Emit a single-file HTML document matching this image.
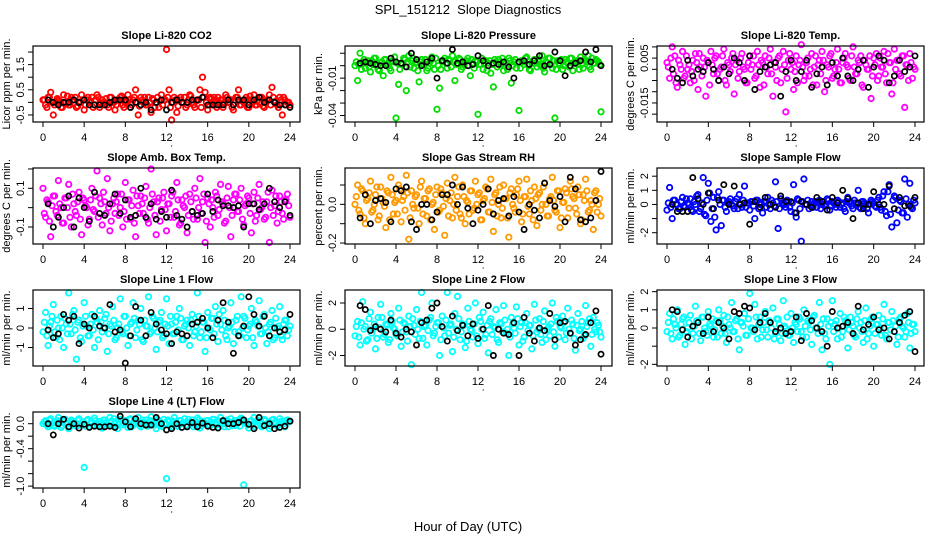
<!DOCTYPE html>
<html><head><meta charset="utf-8">
<style>
html,body{margin:0;padding:0;background:#fff;}
svg{display:block;font-family:"Liberation Sans",sans-serif;}
</style></head>
<body>
<svg id="chart" width="936" height="540" viewBox="0 0 936 540">
<text x="468" y="14" text-anchor="middle" font-size="13">SPL_151212&#160; Slope Diagnostics</text>
<text x="468" y="531" text-anchor="middle" font-size="13">Hour of Day (UTC)</text>
</svg>
<script>
const hoursC=[0,0.25,0.5,0.75,1,1.25,1.5,1.75,2,2.25,2.5,2.75,3,3.25,3.5,3.75,4,4.25,4.5,4.75,5,5.25,5.5,5.75,6,6.25,6.5,6.75,7,7.25,7.5,7.75,8,8.25,8.5,8.75,9,9.25,9.5,9.75,10,10.25,10.5,10.75,11,11.25,11.5,11.75,12,12.25,12.5,12.75,13,13.25,13.5,13.75,14,14.25,14.5,14.75,15,15.25,15.5,15.75,16,16.25,16.5,16.75,17,17.25,17.5,17.75,18,18.25,18.5,18.75,19,19.25,19.5,19.75,20,20.25,20.5,20.75,21,21.25,21.5,21.75,22,22.25,22.5,22.75,23,23.25,23.5,23.75,24];
const hoursC2=[0.125,0.375,0.625,0.875,1.125,1.375,1.625,1.875,2.125,2.375,2.625,2.875,3.125,3.375,3.625,3.875,4.125,4.375,4.625,4.875,5.125,5.375,5.625,5.875,6.125,6.375,6.625,6.875,7.125,7.375,7.625,7.875,8.125,8.375,8.625,8.875,9.125,9.375,9.625,9.875,10.125,10.375,10.625,10.875,11.125,11.375,11.625,11.875,12.125,12.375,12.625,12.875,13.125,13.375,13.625,13.875,14.125,14.375,14.625,14.875,15.125,15.375,15.625,15.875,16.125,16.375,16.625,16.875,17.125,17.375,17.625,17.875,18.125,18.375,18.625,18.875,19.125,19.375,19.625,19.875,20.125,20.375,20.625,20.875,21.125,21.375,21.625,21.875,22.125,22.375,22.625,22.875,23.125,23.375,23.625,23.875];
const hoursB=[0.5,1,1.5,2,2.5,3,3.5,4,4.5,5,5.5,6,6.5,7,7.5,8,8.5,9,9.5,10,10.5,11,11.5,12,12.5,13,13.5,14,14.5,15,15.5,16,16.5,17,17.5,18,18.5,19,19.5,20,20.5,21,21.5,22,22.5,23,23.5,24];
const xTicks=[0,4,8,12,16,20,24];
const panelTitles=["Slope Li-820 CO2","Slope Li-820 Pressure","Slope Li-820 Temp.","Slope Amb. Box Temp.","Slope Gas Stream RH","Slope Sample Flow","Slope Line 1 Flow","Slope Line 2 Flow","Slope Line 3 Flow","Slope Line 4 (LT) Flow"];
const yTitles=["Licor ppm per min.","kPa per min.","degrees C per min.","degrees C per min.","percent per min.","ml/min per min.","ml/min per min.","ml/min per min.","ml/min per min.","ml/min per min."];
const colors=["#ff0000","#00dd00","#ff00ff","#ff00ff","#ff9900","#0000ff","#00ffff","#00ffff","#00ffff","#00ffff"];
const yMin=[-0.78,-0.0452,-0.0235,-0.188,-0.205,-2.80,-1.95,-2.80,-2.09,-1.03];
const yMax=[2.24,0.0158,0.0104,0.205,0.188,2.58,1.95,2.99,2.09,0.1875];
const yTicks=[[-0.5,0,0.5,1,1.5,2],[-0.04,-0.03,-0.02,-0.01,0,0.01],[-0.02,-0.015,-0.01,-0.005,0,0.005,0.01],[-0.1,0,0.1,0.2],[-0.2,-0.1,0,0.1],[-2,-1,0,1,2],[-1,0,1],[-2,0,2],[-2,-1,0,1,2],[-1,-0.8,-0.6,-0.4,-0.2,0]];
const yLabels=[["-0.5","","0.5","","1.5",""],["-0.04","","","-0.01","",""],["","-0.015","","","","0.005",""],["-0.1","","0.1",""],["-0.2","","0.0",""],["-2","","0","1","2"],["-1","0","1"],["-2","0","2"],["-2","","0","1","2"],["-1.0","","","-0.4","","0.0"]];

const coCO2=[0.1,-0.1,0.2,0.4,-0.5,0.0,0.1,-0.2,0.3,0.0,-0.1,0.2,0.1,-0.2,0.0,0.3,-0.3,0.1,0.0,0.2,-0.1,0.3,-0.2,0.1,0.0,-0.1,0.2,0.0,-0.3,0.1,0.2,-0.1,0.0,0.3,-0.2,0.1,0.5,-0.5,0.2,0.0,-0.1,0.2,-0.4,0.1,0.0,-0.2,0.3,0.1,2.1,0.5,-0.7,0.2,-0.4,0.1,0.0,0.2,-0.1,0.3,0.0,-0.2,0.1,0.5,1.0,0.4,-0.3,0.2,0.0,-0.1,0.2,0.1,-0.2,0.3,0.0,0.1,-0.3,0.2,0.5,-0.1,0.0,0.2,-0.2,0.1,0.3,-0.1,0.0,0.2,-0.2,0.1,0.3,0.6,0.0,-0.1,0.2,-0.5,0.1,0.0,-0.1];
const c2CO2=[0.1,-0.2,0.2,0.0,-0.1,0.15,0.05,-0.2,0.0,0.25,-0.1,0.1,0.2,-0.15,0.0,0.1,-0.1,0.2,0.05,-0.2,0.1,0.2,-0.05,0.0,0.15,-0.2,0.2,0.0,-0.1,0.1,0.25,-0.2,0.05,0.1,-0.1,0.2,0.0,-0.15,0.1,0.2,-0.1,0.0,0.15,-0.2,0.2,0.05,-0.1,0.1,0.2,-0.2,0.0,0.1,-0.15,0.2,0.0,-0.2,0.1,0.25,-0.1,0.05,0.1,-0.2,0.2,0.0,-0.1,0.15,0.2,-0.2,0.0,0.1,-0.05,0.2,0.0,-0.2,0.1,0.2,-0.1,0.05,0.1,-0.2,0.25,0.0,-0.1,0.1,0.2,-0.15,0.0,0.1,-0.1,0.2,0.05,-0.2,0.1,0.2,-0.1,0.0];
const bkCO2=[0.1,0.0,-0.1,0.0,0.0,0.1,0.0,0.1,-0.1,-0.1,-0.1,-0.1,0.0,0.1,0.1,0.1,-0.2,0.0,-0.1,0.0,-0.3,0.0,0.1,-0.3,0.0,0.1,0.0,0.0,0.1,0.1,0.2,-0.1,-0.1,-0.1,-0.1,0.1,-0.1,0.1,0.1,-0.1,0.1,0.2,0.0,0.1,0.0,-0.1,-0.1,-0.2];
const coPress=[0.000,-0.012,0.010,0.003,-0.002,0.004,-0.005,0.001,0.006,-0.003,0.002,-0.008,0.005,0.001,-0.004,0.003,-0.042,-0.015,0.002,0.006,-0.020,0.008,0.004,-0.002,0.003,-0.013,0.005,0.001,-0.004,0.002,0.007,-0.003,-0.035,-0.018,0.003,0.006,-0.002,0.004,0.008,-0.012,0.002,0.005,-0.001,0.003,0.006,-0.008,0.002,0.004,-0.039,0.001,-0.003,0.004,0.002,-0.006,-0.017,0.003,0.005,0.001,-0.004,0.002,0.006,-0.014,0.003,-0.002,-0.036,0.004,0.001,0.007,-0.003,0.002,0.005,-0.001,0.003,0.008,-0.005,0.002,0.006,-0.002,-0.042,0.004,0.001,-0.003,0.005,0.002,0.006,-0.004,0.003,0.001,0.007,-0.002,0.004,0.008,-0.003,0.002,0.005,0.003,-0.037];
const c2Press=[0.003,0.001,-0.003,0.005,0.002,-0.001,0.004,0.006,0.000,-0.004,0.003,0.005,0.001,-0.002,0.004,0.007,0.002,-0.003,0.001,0.005,0.003,-0.001,0.006,0.002,-0.004,0.003,0.001,0.005,-0.002,0.004,0.002,0.006,0.000,-0.003,0.004,0.002,0.005,-0.001,0.003,0.001,0.006,-0.003,0.002,0.004,0.000,0.005,-0.002,0.003,0.001,0.006,0.002,-0.004,0.004,0.001,0.005,-0.001,0.003,0.006,0.002,-0.003,0.004,0.000,0.005,0.002,-0.002,0.003,0.006,0.001,-0.004,0.004,0.002,0.005,0.000,-0.002,0.003,0.006,0.001,0.004,-0.003,0.002,0.005,0.000,0.003,-0.001,0.006,0.002,0.004,-0.003,0.001,0.005,0.003,-0.001,0.006,0.002,0.004,0.001];
const bkPress=[0.002,0.003,0.002,0.001,0.000,0.000,0.006,0.003,0.002,-0.001,0.010,0.005,0.000,0.003,0.006,-0.010,0.004,0.002,0.013,0.002,0.003,0.000,0.001,0.008,0.004,0.000,0.002,0.001,0.003,-0.001,-0.010,0.003,0.004,0.001,0.004,0.008,0.000,0.001,0.011,0.004,-0.008,0.000,0.002,0.004,0.011,0.003,0.013,0.000];
const coTemp=[0.003,-0.004,0.010,0.006,-0.008,0.002,0.008,-0.003,0.000,-0.006,0.004,0.007,-0.009,0.001,0.005,-0.012,0.003,0.008,-0.002,0.006,-0.005,0.001,0.009,-0.007,0.002,0.005,-0.011,0.004,-0.001,0.007,0.000,-0.006,0.006,0.002,-0.004,0.008,-0.008,0.003,0.006,-0.002,0.009,-0.012,0.001,0.005,-0.006,0.008,-0.019,0.004,0.000,-0.009,0.006,0.002,0.011,-0.005,0.003,-0.003,0.007,0.001,-0.007,0.004,0.008,-0.010,0.002,0.006,-0.004,0.000,0.009,-0.006,0.003,0.007,0.001,-0.005,0.010,-0.002,0.004,0.006,-0.008,0.002,0.000,-0.013,0.005,0.007,-0.003,0.001,0.008,-0.006,0.003,-0.011,0.009,0.004,-0.002,0.006,-0.017,0.002,0.007,-0.004,0.000];
const c2Temp=[0.001,0.005,-0.002,-0.006,0.004,0.000,-0.004,0.006,0.002,-0.001,-0.005,0.003,0.007,-0.003,0.001,0.004,-0.007,0.002,0.005,-0.002,0.000,0.006,-0.005,0.003,-0.001,0.007,0.002,-0.004,0.005,0.001,-0.006,0.003,0.000,0.006,-0.003,0.002,0.004,-0.007,0.001,0.005,-0.002,0.003,-0.005,0.006,0.000,0.002,-0.004,0.007,0.003,-0.001,-0.006,0.004,0.001,-0.003,0.005,0.000,-0.007,0.006,0.002,-0.002,0.004,-0.005,0.001,0.007,-0.003,0.003,0.000,-0.006,0.005,0.002,-0.004,0.006,0.001,-0.002,0.003,-0.007,0.004,0.000,0.006,-0.003,0.002,-0.005,0.005,0.001,-0.002,0.007,0.003,-0.006,0.000,0.004,-0.003,0.006,0.002,-0.005,0.003,0.001];
const bkTemp=[0.000,-0.004,-0.006,0.004,-0.003,0.000,-0.001,0.003,0.000,-0.005,0.001,-0.002,0.005,0.003,-0.005,0.006,-0.009,-0.001,0.001,0.002,0.003,-0.012,-0.001,0.004,-0.005,-0.001,0.004,-0.008,-0.002,0.001,-0.007,0.003,-0.003,0.005,-0.003,-0.005,0.000,0.004,-0.008,0.001,0.006,0.004,-0.006,-0.003,0.004,-0.001,0.001,0.006];
const coAmb=[0.1,-0.05,0.03,-0.15,0.06,-0.02,0.14,0.0,-0.08,0.05,0.12,-0.1,0.02,-0.04,0.08,-0.14,0.04,0.0,-0.06,0.1,-0.02,0.19,0.05,-0.09,0.03,0.15,-0.12,0.02,-0.03,0.07,0.0,-0.1,0.13,0.04,-0.06,0.09,-0.15,0.01,0.06,-0.03,0.11,-0.08,0.2,0.03,-0.14,0.05,-0.01,0.08,-0.12,0.02,0.06,-0.05,0.13,-0.09,0.04,0.0,-0.13,0.07,-0.02,0.1,-0.06,0.15,0.03,-0.18,0.05,-0.1,0.0,0.08,-0.04,0.12,0.02,-0.07,0.11,-0.15,0.04,0.07,-0.02,0.1,-0.09,0.02,0.05,-0.13,0.08,-0.04,0.12,0.0,-0.06,0.03,-0.18,0.09,0.01,-0.08,0.06,-0.03,0.04,0.07,-0.05];
const c2Amb=[-0.03,0.04,-0.07,0.01,0.06,-0.04,0.02,-0.08,0.05,0.0,-0.05,0.07,-0.02,0.03,-0.06,0.05,0.01,-0.09,0.04,-0.01,0.06,-0.05,0.02,0.08,-0.03,0.0,-0.07,0.05,0.03,-0.04,0.07,-0.02,-0.06,0.04,0.01,-0.08,0.06,-0.03,0.02,0.05,-0.06,0.0,0.07,-0.04,0.03,-0.07,0.05,-0.01,0.02,-0.05,0.08,-0.02,0.04,-0.08,0.01,0.06,-0.04,0.03,-0.06,0.05,0.0,-0.03,0.07,-0.07,0.02,0.04,-0.05,0.06,-0.01,0.03,-0.08,0.05,0.0,-0.04,0.07,-0.02,0.04,-0.06,0.01,0.06,-0.03,0.02,-0.07,0.05,-0.01,0.03,-0.05,0.08,0.0,-0.04,0.06,-0.02,0.03,-0.06,0.04,0.01];
const bkAmb=[0.02,-0.1,-0.05,0.0,0.06,-0.1,0.05,0.0,-0.07,0.08,-0.03,-0.04,0.02,0.07,-0.03,0.04,-0.05,-0.04,0.1,-0.05,0.02,-0.06,-0.02,-0.05,0.09,-0.04,-0.06,-0.1,-0.02,-0.04,-0.03,0.07,-0.02,0.04,0.01,0.01,0.0,0.01,-0.1,0.02,0.02,-0.01,0.02,0.1,0.03,0.0,0.03,-0.04];
const coRH=[0.0,0.1,-0.05,0.07,-0.1,0.03,0.12,-0.03,0.05,-0.08,0.09,0.01,-0.12,0.06,0.14,-0.05,0.02,0.1,-0.09,0.04,0.15,-0.18,0.07,-0.02,0.05,-0.1,0.12,0.03,-0.06,0.08,0.0,-0.13,0.09,-0.03,0.06,-0.16,0.11,0.02,-0.07,0.14,0.04,-0.05,0.1,-0.1,0.01,0.07,-0.03,0.12,0.05,-0.08,0.02,0.09,-0.04,0.13,-0.14,0.06,0.0,-0.07,0.1,0.03,-0.17,0.08,-0.02,0.05,0.12,-0.09,0.04,0.13,-0.05,0.02,0.09,-0.11,0.06,0.0,0.11,-0.06,0.03,0.14,-0.03,0.07,-0.12,0.01,0.08,-0.07,0.12,0.04,-0.02,0.09,-0.1,0.05,0.13,-0.04,0.02,-0.13,0.07,0.0,-0.06];
const c2RH=[0.04,-0.03,0.08,-0.07,0.02,0.06,-0.04,0.0,0.09,-0.06,0.03,-0.01,0.07,-0.08,0.05,0.01,-0.05,0.08,0.02,-0.03,0.06,-0.07,0.0,0.04,-0.02,0.09,-0.05,0.03,0.07,-0.08,0.01,0.05,-0.04,0.08,-0.01,0.03,-0.06,0.06,0.0,-0.03,0.09,-0.07,0.04,0.02,-0.05,0.07,-0.02,0.0,0.06,-0.08,0.03,0.08,-0.04,0.01,0.05,-0.06,0.09,-0.02,0.03,-0.07,0.06,0.0,-0.04,0.08,0.02,-0.05,0.04,-0.01,0.07,-0.08,0.03,0.05,-0.03,0.09,0.0,-0.06,0.04,0.02,-0.04,0.07,-0.07,0.01,0.06,-0.02,0.08,0.03,-0.05,0.05,-0.08,0.02,0.07,-0.03,0.0,0.06,-0.04,0.03];
const bkRH=[-0.07,0.05,-0.1,0.02,0.03,0.01,-0.09,0.08,0.07,0.09,-0.09,-0.13,0.0,0.0,-0.08,-0.04,0.05,0.05,0.1,0.0,0.09,-0.02,-0.1,-0.03,0.0,0.08,-0.05,0.02,0.03,-0.06,0.04,-0.04,-0.13,0.0,-0.03,-0.07,0.11,0.02,-0.01,0.04,-0.09,0.14,0.08,-0.08,-0.09,-0.07,0.02,0.17];
const coSample=[-0.4,1.2,-1.0,0.3,0.0,-0.3,0.5,-0.2,0.1,0.4,-0.5,0.0,0.7,-0.3,1.9,-0.8,1.5,-1.2,0.5,-1.8,0.9,-1.5,0.3,-0.5,0.2,0.0,-0.3,0.4,0.7,-0.2,1.3,0.1,-0.4,0.2,-1.0,0.3,0.0,-0.6,0.2,0.5,-0.3,0.1,1.6,-1.7,0.4,0.0,-0.2,0.2,-0.5,1.4,-0.9,0.3,-2.6,1.8,0.0,-0.3,0.2,0.1,-0.2,0.3,0.0,-0.1,0.4,-0.4,0.2,0.0,0.3,-0.2,0.1,-0.5,0.5,0.2,-0.3,0.1,1.0,-0.3,0.2,0.0,-0.6,0.3,0.1,-0.2,0.5,-0.4,0.9,-0.8,1.4,-1.6,0.6,-1.3,0.3,-0.6,1.8,-0.9,1.5,-0.3,0.1];
const c2Sample=[0.1,-0.2,0.3,0.0,-0.3,0.2,-0.1,0.4,0.0,-0.4,0.2,0.6,-0.5,0.1,-0.7,0.3,0.8,-0.3,-0.9,0.5,0.0,0.3,-0.2,0.1,0.4,-0.1,0.2,-0.3,0.0,0.3,-0.2,0.1,0.2,-0.1,0.3,-0.3,0.1,0.2,-0.2,0.0,0.3,-0.1,0.2,-0.3,0.1,0.0,0.3,-0.2,0.1,-0.6,0.4,-0.3,0.2,0.0,0.3,-0.1,-0.2,0.2,0.1,-0.3,0.2,0.0,0.3,-0.1,0.1,-0.2,0.2,0.0,-0.3,0.2,0.1,-0.1,0.3,0.0,-0.2,0.2,0.1,-0.3,0.0,0.2,-0.1,0.3,-0.2,0.6,-0.5,0.9,-0.7,0.3,0.5,-0.4,0.2,-0.6,0.4,0.0,-0.2,0.3];
const bkSample=[0.0,-0.5,-0.5,-0.5,1.9,0.4,0.0,0.8,-0.3,0.3,1.4,0.0,1.3,0.0,0.1,-1.4,0.2,-0.2,0.5,0.0,-0.2,0.6,0.2,0.2,-0.6,0.2,0.0,-0.2,0.5,0.2,-0.4,0.5,0.1,1.0,0.4,-1.0,0.1,-0.3,0.0,0.9,0.0,0.0,1.3,-0.3,0.5,-0.1,-0.1,0.5];
const coLine1=[-0.2,0.8,-0.9,0.3,1.2,-0.5,0.0,0.6,-1.0,0.2,1.8,-0.3,0.9,-1.6,0.4,-0.7,1.3,0.1,-0.4,0.7,-1.0,0.3,0.9,-0.2,0.5,-1.2,0.2,1.1,-0.6,0.0,1.5,-0.3,0.6,-0.9,0.2,1.3,-0.5,0.4,1.0,-0.7,0.1,1.6,-0.2,0.5,-1.1,0.3,0.8,-0.4,1.5,-0.8,0.2,-0.3,0.6,1.0,-0.6,0.1,0.4,-0.9,0.7,-0.2,1.8,-0.5,0.3,-1.2,0.8,-0.1,0.5,1.1,-0.7,0.2,0.9,-0.4,0.0,1.3,-0.8,0.4,-0.2,1.6,0.6,-0.5,0.1,1.0,-0.9,0.3,1.4,-0.3,0.7,-0.8,0.2,0.9,-0.5,0.0,1.1,-0.6,0.4,-0.4,0.1];
const c2Line1=[0.3,-0.4,0.1,0.6,-0.2,0.4,-0.6,0.0,0.5,-0.3,0.2,0.7,-0.1,0.3,-0.5,0.1,0.6,-0.4,0.2,-0.1,0.5,-0.6,0.3,0.0,0.7,-0.3,0.1,0.4,-0.5,0.2,-0.2,0.6,0.0,-0.4,0.3,0.5,-0.1,0.2,-0.6,0.4,0.1,-0.3,0.6,0.0,-0.2,0.4,-0.5,0.2,0.1,0.6,-0.3,0.3,-0.1,0.5,-0.6,0.2,0.0,0.4,-0.4,0.1,0.6,-0.2,0.3,-0.5,0.0,0.5,-0.3,0.2,0.7,-0.1,0.4,-0.6,0.1,0.3,-0.2,0.6,-0.4,0.0,0.5,-0.1,0.2,-0.5,0.4,0.1,-0.3,0.6,0.0,-0.2,0.3,-0.6,0.5,0.1,-0.4,0.2,0.4,-0.1];
const bkLine1=[-0.1,-0.5,-0.3,0.7,0.4,0.6,-0.8,0.2,0.0,0.6,0.1,0.0,1.2,-0.2,-0.1,-1.8,-0.4,1.1,0.4,-0.4,0.8,0.2,-0.1,-0.3,-0.8,-0.2,-0.3,-0.4,0.2,0.3,0.5,0.0,-0.5,0.4,1.3,0.3,-1.3,-0.4,0.1,1.6,0.7,0.1,0.6,-0.4,0.0,-0.2,-0.1,0.7];
const coLine2=[-0.5,0.6,-1.2,2.1,0.2,-0.8,1.3,0.0,-1.5,0.9,1.9,-0.6,0.4,-1.0,1.2,0.1,-0.4,1.6,-1.3,0.5,-0.2,1.0,-2.7,0.3,1.5,-0.7,2.8,0.2,-1.2,0.7,2.0,-0.3,0.5,-2.0,1.0,-0.5,2.8,0.3,-1.7,1.2,2.5,-0.8,0.4,-1.4,1.6,0.0,-0.6,2.0,-1.1,0.6,1.3,-0.4,-1.8,0.8,0.2,1.5,-1.0,0.4,1.8,-0.3,-2.0,0.9,0.1,1.7,-1.2,0.5,-0.6,1.2,0.3,-1.5,1.9,-0.2,0.8,-1.0,1.4,0.0,-0.5,2.0,-1.3,0.6,0.2,1.0,-0.8,1.6,-0.3,0.4,-1.6,1.2,0.0,-0.7,1.8,0.5,-1.3,0.9,-0.2,0.3,-0.6];
const c2Line2=[0.2,-0.6,0.5,0.0,-0.9,0.8,-0.3,0.4,-0.7,0.1,0.9,-0.4,0.3,-0.8,0.6,0.0,-0.5,0.7,-0.2,0.4,-0.9,0.2,0.8,-0.4,0.0,0.6,-0.7,0.3,-0.1,0.9,-0.5,0.2,0.5,-0.8,0.1,0.7,-0.3,0.4,-0.6,0.0,0.8,-0.2,0.3,-0.9,0.6,-0.1,0.4,-0.5,0.9,0.0,-0.7,0.3,0.6,-0.4,0.1,-0.8,0.5,-0.2,0.7,0.0,-0.6,0.4,-0.3,0.8,0.2,-0.9,0.5,-0.1,0.3,-0.5,0.7,0.0,-0.4,0.6,-0.8,0.2,0.4,-0.2,0.9,-0.6,0.1,0.5,-0.3,0.0,0.7,-0.7,0.3,-0.1,0.6,-0.5,0.2,0.8,-0.4,0.0,0.5,-0.2];
const bkLine2=[1.8,1.5,-0.1,0.2,0.0,-0.2,0.7,-0.3,-0.6,0.0,-0.2,-1.2,0.5,0.7,1.6,2.0,0.2,-0.9,1.0,-0.1,0.3,-0.5,0.4,-0.7,0.0,1.8,-2.0,0.0,-0.3,-0.4,0.5,-2.0,0.9,-0.3,-0.9,0.1,-0.1,1.2,-0.8,0.5,0.6,-0.3,-1.2,-0.8,-0.4,0.5,1.4,-1.9];
const coLine3=[-0.2,0.8,-0.6,0.2,1.0,-0.4,0.5,-0.9,0.0,0.7,-0.3,1.2,0.3,-0.7,0.6,-0.2,0.9,0.1,-0.5,0.4,1.0,-0.3,0.7,-0.8,0.2,1.4,-0.2,0.5,-1.2,0.3,0.8,-0.4,1.9,0.0,1.3,-0.6,0.6,-0.1,0.9,-0.5,0.3,1.1,-0.3,0.5,-0.7,1.5,0.0,-0.4,0.8,-0.8,0.2,0.6,-0.2,1.0,-0.5,0.3,-0.9,0.7,0.0,1.4,-1.2,-0.3,0.5,-2.0,1.5,0.2,-0.6,0.8,-0.2,0.4,-1.1,0.6,0.1,-0.5,0.9,0.3,-0.8,1.1,-0.3,0.5,-1.0,0.2,0.7,-0.4,1.3,-0.6,0.3,0.9,-0.2,-0.9,0.5,0.1,-0.5,0.8,-1.1,0.2,-0.2];
const c2Line3=[0.3,-0.3,0.5,0.0,-0.5,0.2,0.6,-0.2,0.3,-0.6,0.1,0.4,-0.3,0.6,0.0,-0.4,0.2,0.5,-0.1,-0.5,0.4,0.1,-0.3,0.6,0.0,-0.2,0.4,-0.6,0.3,0.1,-0.4,0.5,0.0,-0.2,0.6,0.2,-0.5,0.3,-0.1,0.4,0.0,-0.6,0.5,0.2,-0.3,0.1,0.6,-0.4,0.0,0.3,-0.2,0.5,-0.5,0.1,0.4,-0.1,0.6,0.0,-0.3,0.2,0.5,-0.6,0.1,0.3,-0.2,0.4,0.0,-0.5,0.6,0.2,-0.1,0.3,-0.4,0.5,0.0,-0.2,0.4,-0.6,0.1,0.6,-0.3,0.2,0.0,0.5,-0.4,0.3,-0.1,0.4,0.1,-0.5,0.6,0.0,-0.2,0.3,-0.3,0.2];
const bkLine3=[1.0,0.9,-0.1,-0.5,0.1,0.3,-0.3,0.6,-0.2,0.3,0.0,-0.6,0.9,0.8,1.2,1.1,-0.1,0.3,0.8,0.3,-0.2,0.0,-0.3,-0.2,0.6,-0.7,0.8,0.4,0.0,-0.2,-1.0,0.9,0.0,0.1,0.3,-0.3,1.2,-0.1,0.2,0.6,-0.1,0.0,-0.6,-0.2,0.3,0.7,0.9,-1.3];
const coLine4=[0.0,0.05,-0.05,0.08,-0.03,0.02,0.1,-0.06,0.04,0.0,-0.08,0.06,0.03,-0.04,0.08,0.0,-0.7,0.05,-0.05,0.02,0.09,-0.03,0.04,-0.07,0.06,0.0,0.1,-0.04,0.03,-0.08,0.07,0.01,0.05,-0.06,0.08,-0.02,0.04,0.1,-0.05,0.02,0.06,-0.03,0.11,0.0,-0.08,0.05,-0.02,0.07,-0.88,0.03,-0.06,0.1,-0.04,0.05,0.0,0.08,-0.05,0.03,0.06,-0.02,0.09,-0.07,0.04,0.01,0.05,-0.03,0.07,0.02,-0.06,0.1,0.0,0.04,-0.05,0.08,0.02,-0.03,0.06,0.09,-0.98,0.03,-0.07,0.05,0.1,-0.02,0.04,-0.05,0.07,0.0,-0.08,0.06,0.02,-0.04,0.08,0.03,-0.05,0.06,0.04];
const c2Line4=[0.03,-0.02,0.06,0.0,-0.04,0.05,0.02,-0.03,0.07,0.01,-0.05,0.04,0.0,0.06,-0.02,0.03,-0.04,0.07,0.01,-0.03,0.05,0.0,-0.05,0.06,0.02,-0.02,0.04,0.08,-0.04,0.01,0.05,-0.02,0.03,0.07,-0.05,0.0,0.04,-0.03,0.06,0.02,-0.04,0.05,0.0,-0.02,0.07,0.03,-0.05,0.01,0.06,-0.03,0.04,0.0,-0.04,0.05,0.02,-0.02,0.07,0.0,-0.05,0.03,0.06,-0.03,0.01,0.05,-0.04,0.02,0.07,-0.02,0.04,0.0,-0.05,0.06,0.03,-0.03,0.05,0.01,-0.04,0.07,0.02,-0.02,0.04,0.0,-0.05,0.06,0.03,-0.03,0.05,0.01,-0.04,0.07,0.02,-0.02,0.04,0.0,0.05,0.03];
const bkLine4=[0.0,-0.18,0.0,0.07,-0.05,0.0,-0.07,-0.01,-0.06,-0.04,-0.05,-0.05,-0.04,-0.06,0.12,0.03,-0.05,0.08,0.0,-0.02,-0.02,0.1,0.0,-0.1,-0.08,0.0,-0.06,-0.05,0.02,-0.05,0.01,-0.04,-0.06,-0.07,0.05,0.0,0.0,0.02,0.06,-0.01,-0.08,0.1,-0.03,0.0,-0.08,-0.06,-0.04,0.04];

const colorSeries=[coCO2,coPress,coTemp,coAmb,coRH,coSample,coLine1,coLine2,coLine3,coLine4];
const colorSeries2=[c2CO2,c2Press,c2Temp,c2Amb,c2RH,c2Sample,c2Line1,c2Line2,c2Line3,c2Line4];
const blackSeries=[bkCO2,bkPress,bkTemp,bkAmb,bkRH,bkSample,bkLine1,bkLine2,bkLine3,bkLine4];

const NS="http://www.w3.org/2000/svg";
const svg=document.getElementById('chart');
const colLeft=[33,345,657], colRight=[300,612,924], colX0=[43,355,667], colX24=[290,601,915];
const rowTop=[46,168,290,412], rowBottom=[122,244,366,488];
function mk(tag,attrs,parent){const e=document.createElementNS(NS,tag);for(const k in attrs)e.setAttribute(k,attrs[k]);(parent||svg).appendChild(e);return e;}
function slug(s){return s.toLowerCase().replace(/[^a-z0-9]+/g,'-').replace(/^-|-$/g,'');}

for(let p=0;p<10;p++){
  const c=p%3, r=Math.floor(p/3);
  const L=colLeft[c],R=colRight[c],T=rowTop[r],B=rowBottom[r];
  const xs=h=>colX0[c]+(colX24[c]-colX0[c])*h/24;
  const ys=v=>B-(v-yMin[p])/(yMax[p]-yMin[p])*(B-T);
  const g=mk('g',{});
  
  
  const t=mk('text',{x:(L+R)/2,y:T-7,'text-anchor':'middle','font-size':'11','font-weight':'bold'},g);
  t.textContent=panelTitles[p];
  
  
  const gc=mk('g',{fill:'none',stroke:colors[p],'stroke-width':'1.8'},g);
  
  
  const cs=colorSeries[p];
  for(let i=0;i<cs.length&&i<hoursC.length;i++){
    const pt=mk('circle',{cx:xs(hoursC[i]).toFixed(1),cy:ys(cs[i]).toFixed(1),r:'2.7'},gc);
    
    
  }
  const cs2=colorSeries2[p];
  for(let i=0;i<cs2.length&&i<hoursC2.length;i++){
    const pt=mk('circle',{cx:xs(hoursC2[i]).toFixed(1),cy:ys(cs2[i]).toFixed(1),r:'2.7'},gc);
    
    
  }
  const gb=mk('g',{fill:'none',stroke:'#000','stroke-width':'1.7'},g);
  
  
  const bs=blackSeries[p];
  for(let i=0;i<bs.length&&i<hoursB.length;i++){
    const pt=mk('circle',{cx:xs(hoursB[i]).toFixed(1),cy:ys(bs[i]).toFixed(1),r:'2.6'},gb);
    
    
  }
  const box=mk('rect',{x:L,y:T,width:R-L,height:B-T,fill:'none',stroke:'#000','stroke-width':'1.2'},g);
  
  
  const gx=mk('g',{},g);
  
  
  mk('line',{x1:xs(0),x2:xs(24),y1:B,y2:B,stroke:'#000'},gx);
  xTicks.forEach(v=>{
    mk('line',{x1:xs(v),x2:xs(v),y1:B,y2:B+5,stroke:'#000'},gx);
    const tl=mk('text',{x:xs(v),y:B+19,'text-anchor':'middle','font-size':'11'},gx);
    tl.textContent=String(v);
    
    
  });
  mk('circle',{cx:xs(12.5),cy:B+24,r:'0.6',fill:'#000'},gx);
  const gy=mk('g',{},g);
  
  
  const tk=yTicks[p];
  mk('line',{x1:L,x2:L,y1:ys(tk[0]),y2:ys(tk[tk.length-1]),stroke:'#000'},gy);
  tk.forEach((v,i)=>{
    const y=ys(v);
    mk('line',{x1:L-5,x2:L,y1:y,y2:y,stroke:'#000'},gy);
    if(yLabels[p][i]){
      const yl=mk('text',{x:L-9,y:y,'text-anchor':'middle','font-size':'11',transform:'rotate(-90 '+(L-9)+' '+y+')'},gy);
      yl.textContent=yLabels[p][i];
      
      
    }
  });
  const yt=mk('text',{x:L-23,y:(T+B)/2,'text-anchor':'middle','font-size':'11',transform:'rotate(-90 '+(L-23)+' '+((T+B)/2)+')'},gy);
  yt.textContent=yTitles[p];
  
  
}
</script>
</body></html>
